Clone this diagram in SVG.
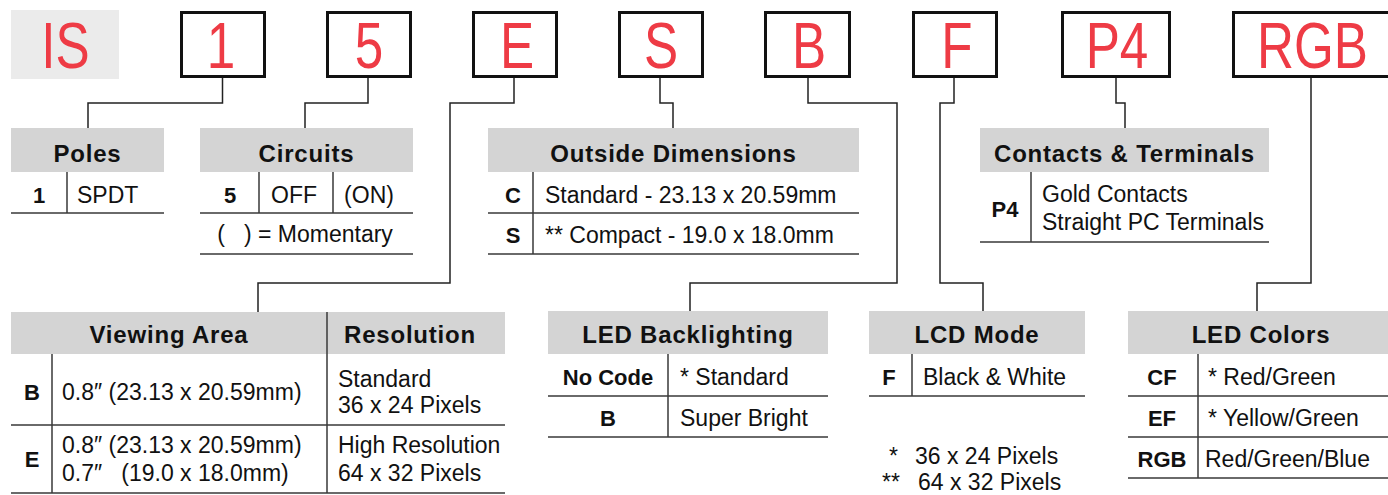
<svg xmlns="http://www.w3.org/2000/svg" width="1388" height="495" viewBox="0 0 1388 495">
<style>
.box{fill:#fff;stroke:#111;stroke-width:3}
.code{font-family:"Liberation Sans",Arial,sans-serif;font-size:64px;fill:#EE3B45;text-anchor:middle}
.hdr{fill:#D4D4D4}
.ht{font-family:"Liberation Sans",Arial,sans-serif;font-weight:bold;font-size:24px;letter-spacing:0.8px;text-anchor:middle;fill:#111}
.k{font-family:"Liberation Sans",Arial,sans-serif;font-weight:bold;font-size:22px;text-anchor:middle;fill:#111}
.t{font-family:"Liberation Sans",Arial,sans-serif;font-size:23px;fill:#111}
.m{text-anchor:middle}
.ln{stroke:#3a3a3a;stroke-width:1.5;fill:none}
.conn{stroke:#222;stroke-width:1.5;fill:none}
</style>

<g id="code-IS">
<rect x="11" y="10" width="108" height="69" fill="#EBEBEB"/>
<text class="code" transform="translate(65.5 68) scale(0.8 1)">IS</text>
</g>
<g id="code-1">
<rect class="box" x="181.5" y="12.5" width="83" height="64"/>
<text class="code" transform="translate(221 68) scale(0.8 1)">1</text>
</g>
<g id="code-5">
<rect class="box" x="327.5" y="12.5" width="83" height="64"/>
<text class="code" transform="translate(369 68) scale(0.8 1)">5</text>
</g>
<g id="code-E">
<rect class="box" x="473.5" y="12.5" width="83" height="64"/>
<text class="code" transform="translate(517 68) scale(0.8 1)">E</text>
</g>
<g id="code-S">
<rect class="box" x="619.5" y="12.5" width="83" height="64"/>
<text class="code" transform="translate(661 68) scale(0.8 1)">S</text>
</g>
<g id="code-B">
<rect class="box" x="765.5" y="12.5" width="84" height="64"/>
<text class="code" transform="translate(809 68) scale(0.8 1)">B</text>
</g>
<g id="code-F">
<rect class="box" x="913.5" y="12.5" width="83" height="64"/>
<text class="code" transform="translate(957 68) scale(0.8 1)">F</text>
</g>
<g id="code-P4">
<rect class="box" x="1062.5" y="12.5" width="107" height="64"/>
<text class="code" transform="translate(1117 68) scale(0.8 1)">P4</text>
</g>
<g id="code-RGB">
<rect class="box" x="1233.5" y="12.5" width="170" height="64"/>
<text class="code" transform="translate(1312.5 68) scale(0.8 1)">RGB</text>
</g>

<g id="connectors">
<path class="conn" d="M222.5 78V103H88V128"/>
<path class="conn" d="M368 78V103H305V128"/>
<path class="conn" d="M514 78V103H450V283H258V312"/>
<path class="conn" d="M660 78V103H673V128"/>
<path class="conn" d="M808 78V103H897V283H690V311"/>
<path class="conn" d="M954 78V103H940V283H983V311"/>
<path class="conn" d="M1116 78V103H1125V128"/>
<path class="conn" d="M1311 78V283H1257V311"/>
</g>

<g id="tbl-poles">
<rect class="hdr" x="11" y="128" width="153" height="44"/>
<text class="ht" x="87.5" y="162">Poles</text>
<path class="ln" d="M67 172V213M11 213H164"/>
<text class="k" x="39" y="203">1</text>
<text class="t" x="77" y="203">SPDT</text>
</g>

<g id="tbl-circuits">
<rect class="hdr" x="200" y="128" width="213" height="44"/>
<text class="ht" x="306.5" y="162">Circuits</text>
<path class="ln" d="M259 172V213M333 172V213M200 213H413M200 254H413"/>
<text class="k" x="230" y="203">5</text>
<text class="t m" x="294" y="203">OFF</text>
<text class="t m" x="369" y="203">(ON)</text>
<text class="t m" x="305" y="242" xml:space="preserve">(   ) = Momentary</text>
</g>

<g id="tbl-dimensions">
<rect class="hdr" x="488" y="128" width="371" height="44"/>
<text class="ht" x="673.5" y="162">Outside Dimensions</text>
<path class="ln" d="M533 172V254M488 213H859M488 254H859"/>
<text class="k" x="513" y="203">C</text>
<text class="t" x="545" y="203">Standard - 23.13 x 20.59mm</text>
<text class="k" x="513" y="243">S</text>
<text class="t" x="545" y="243">** Compact - 19.0 x 18.0mm</text>
</g>

<g id="tbl-contacts">
<rect class="hdr" x="980" y="128" width="289" height="44"/>
<text class="ht" x="1124.5" y="162">Contacts &amp; Terminals</text>
<path class="ln" d="M1031 172V242M980 242H1269"/>
<text class="k" x="1005" y="217">P4</text>
<text class="t" x="1042" y="202">Gold Contacts</text>
<text class="t" x="1042" y="230">Straight PC Terminals</text>
</g>

<g id="tbl-viewing">
<rect class="hdr" x="11" y="312" width="494" height="42"/>
<text class="ht" x="169" y="343">Viewing Area</text>
<text class="ht" x="410" y="343">Resolution</text>
<path class="ln" d="M327 312V493M52 354V493M11 425H505M11 493H505"/>
<text class="k" x="32" y="400">B</text>
<text class="t" x="62" y="400">0.8″ (23.13 x 20.59mm)</text>
<text class="t" x="338" y="387">Standard</text>
<text class="t" x="338" y="413">36 x 24 Pixels</text>
<text class="k" x="32" y="467">E</text>
<text class="t" x="62" y="453">0.8″ (23.13 x 20.59mm)</text>
<text class="t" x="62" y="481" xml:space="preserve">0.7″   (19.0 x 18.0mm)</text>
<text class="t" x="338" y="453">High Resolution</text>
<text class="t" x="338" y="481">64 x 32 Pixels</text>
</g>

<g id="tbl-backlighting">
<rect class="hdr" x="548" y="311" width="280" height="43"/>
<text class="ht" x="688" y="343">LED Backlighting</text>
<path class="ln" d="M668 354V437M548 396H828M548 437H828"/>
<text class="k" x="608" y="385">No Code</text>
<text class="t" x="680" y="385">* Standard</text>
<text class="k" x="608" y="426">B</text>
<text class="t" x="680" y="426">Super Bright</text>
</g>

<g id="tbl-lcdmode">
<rect class="hdr" x="869" y="311" width="216" height="43"/>
<text class="ht" x="977" y="343">LCD Mode</text>
<path class="ln" d="M912 354V396M869 396H1085"/>
<text class="k" x="889" y="385">F</text>
<text class="t" x="923" y="385">Black &amp; White</text>
</g>

<g id="footnotes">
<text class="t" x="889" y="464">*</text>
<text class="t" x="915" y="464">36 x 24 Pixels</text>
<text class="t" x="882" y="490">**</text>
<text class="t" x="918" y="490">64 x 32 Pixels</text>
</g>

<g id="tbl-ledcolors">
<rect class="hdr" x="1128" y="311" width="260" height="43"/>
<text class="ht" x="1261" y="343">LED Colors</text>
<path class="ln" d="M1198 354V478M1128 396H1388M1128 437H1388M1128 478H1388"/>
<text class="k" x="1162" y="385">CF</text>
<text class="t" x="1208" y="385">* Red/Green</text>
<text class="k" x="1162" y="426">EF</text>
<text class="t" x="1208" y="426">* Yellow/Green</text>
<text class="k" x="1162" y="467">RGB</text>
<text class="t" x="1205" y="467">Red/Green/Blue</text>
</g>
</svg>
